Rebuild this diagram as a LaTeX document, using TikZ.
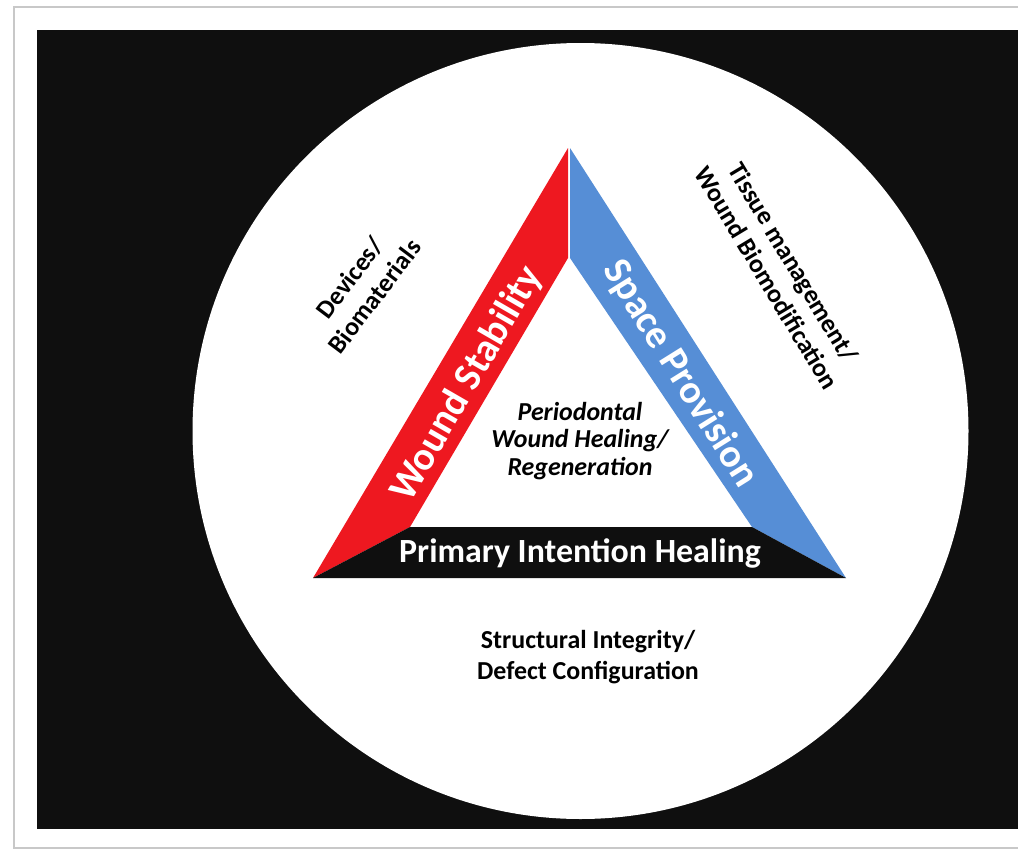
\documentclass[tikz,border=0pt]{standalone}
\usepackage{fontspec}
\setmainfont{Carlito}
\definecolor{bandred}{RGB}{238,24,32}
\definecolor{bandblue}{RGB}{86,142,214}
\definecolor{bgblack}{RGB}{15,15,15}
\definecolor{framegray}{RGB}{200,200,200}
\tikzset{
  bandtext/.style={text=white, font=\bfseries\fontsize{34}{40}\selectfont, inner sep=0pt},
  outertext/.style={text=black, font=\bfseries\fontsize{26}{31}\selectfont, align=center, inner sep=0pt},
}
\begin{document}
\begin{tikzpicture}[x=1bp, y=-1bp]
\useasboundingbox (0,0) rectangle (1018,849);
\fill[white] (0,0) rectangle (1018,849);
\draw[framegray, line width=1.5bp] (14,1000) -- (14,7) -- (1100,7);
\draw[framegray, line width=1.5bp] (14,848) -- (1100,848);
\fill[bgblack] (37,30) rectangle (1030,829);
\fill[white] (580.5,431) circle (388);
\fill[bandred] (568,148) -- (568,258) -- (410,527) -- (313,578) -- cycle;
\fill[bandblue] (570,148) -- (570,258) -- (752,527) -- (846,578) -- cycle;
\fill[bgblack] (313,578) -- (410,527) -- (752,527) -- (846,578) -- cycle;
\node[bandtext, font=\bfseries\fontsize{40}{44}\selectfont, rotate=60] (stab) at (467,384) {Wound Stability};
\node[bandtext, font=\bfseries\fontsize{40}{44}\selectfont, rotate=-58] (space) at (680,374) {Space Provision};
\node[bandtext] (primary) at (580,553) {Primary Intention Healing};
\node[outertext, font=\bfseries\itshape\fontsize{26}{28}\selectfont] (perio) at (580,441)
  {Periodontal\\Wound Healing/\\Regeneration};
\node[outertext, rotate=53] (devices) at (362,287) {Devices/\\Biomaterials};
\node[outertext, rotate=-59] (tissue) at (780,270) {Tissue management/\\Wound Biomodification};
\node[outertext] (struct) at (588,657) {Structural Integrity/\\Defect Configuration};
\end{tikzpicture}
\end{document}
